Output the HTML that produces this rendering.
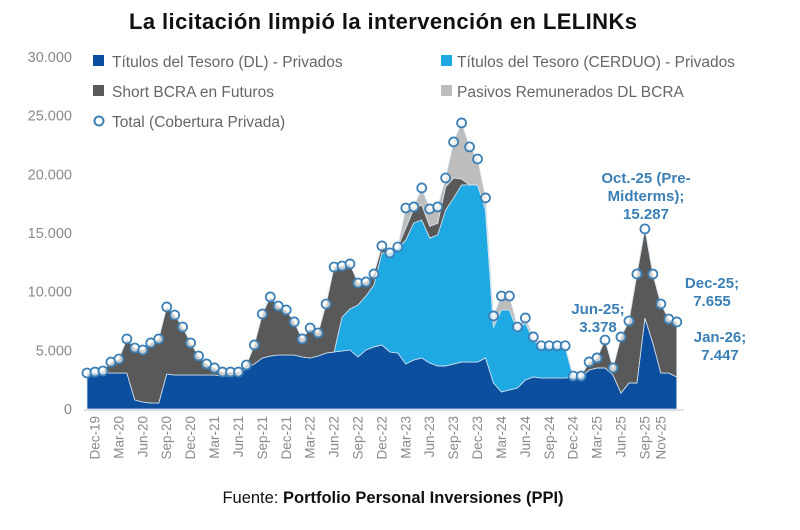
<!DOCTYPE html>
<html><head><meta charset="utf-8"><style>
body{margin:0;background:#fff;width:800px;height:525px;overflow:hidden;font-family:"Liberation Sans",sans-serif}
</style></head><body>
<svg id="chart" width="800" height="525" xmlns="http://www.w3.org/2000/svg" font-family="Liberation Sans, sans-serif">
<text x="383" y="29" text-anchor="middle" font-size="22" font-weight="bold" fill="#111" textLength="508">La licitación limpió la intervención en LELINKs</text>
<g id="yaxis"></g>
<g id="areas"></g>
<g id="points"></g>
<g id="xaxis"></g>
<g font-size="15.5" fill="#666">
 <g><rect x="93" y="55" width="11" height="11" fill="#0b4f9e"/><text x="112" y="67">Títulos del Tesoro (DL) - Privados</text></g>
 <g><rect x="441" y="55" width="11" height="11" fill="#1fa9e3"/><text x="457" y="67">Títulos del Tesoro (CERDUO) - Privados</text></g>
 <g><rect x="93" y="85" width="11" height="11" fill="#595959"/><text x="112" y="97">Short BCRA en Futuros</text></g>
 <g><rect x="441" y="85" width="11" height="11" fill="#bdbdbd"/><text x="457" y="97">Pasivos Remunerados DL BCRA</text></g>
 <g><circle cx="99" cy="121" r="4.5" fill="#fff" stroke="#3d80b5" stroke-width="2"/><text x="112" y="127">Total (Cobertura Privada)</text></g>
</g>
<g font-size="15" font-weight="bold" fill="#3a7fb5" text-anchor="middle">
 <text x="646" y="183">Oct.-25 (Pre-</text>
 <text x="646" y="201">Midterms);</text>
 <text x="646" y="219">15.287</text>
 <text x="598" y="314">Jun-25;</text>
 <text x="598" y="332">3.378</text>
 <text x="712" y="288">Dec-25;</text>
 <text x="712" y="306">7.655</text>
 <text x="720" y="342">Jan-26;</text>
 <text x="720" y="360">7.447</text>
</g>
<text x="393" y="503" text-anchor="middle" font-size="16.5" fill="#111">Fuente: <tspan font-weight="bold">Portfolio Personal Inversiones (PPI)</tspan></text>
</svg>
<script>
const dl=[3070,3070,3070,3070,3070,3070,770,600,510,510,2980,2900,2900,2900,2900,2900,2900,2810,2810,2900,3500,3840,4350,4520,4600,4600,4600,4430,4350,4520,4770,4860,4940,5030,4430,5030,5290,5460,4860,4770,3840,4180,4350,3920,3670,3670,3840,4000,4000,4000,4350,2220,1450,1620,1790,2470,2730,2640,2640,2640,2640,2730,2730,3320,3500,3500,2900,1360,2220,2220,7760,5630,3070,3070,2730];
const cer=[0,0,0,0,0,0,0,0,0,0,0,0,0,0,0,0,0,0,0,0,0,0,0,0,0,0,0,0,0,0,0,0,2900,3500,4440,4600,5280,7840,8440,8960,10560,11680,11760,10660,11160,13290,14150,15100,15100,15100,12610,4770,6990,6820,4940,4860,3150,2650,2650,2650,2650,0,0,0,0,0,0,0,0,0,0,0,0,0,0];
const shortF=[0,80,170,930,1190,2900,4430,4430,5120,5460,5720,5110,4090,2730,1620,940,600,340,340,250,250,1620,3750,5030,4180,3840,2820,1540,2550,1960,4180,7240,4350,3835,1870,1200,940,600,0,80,1030,1200,1300,1000,1000,1970,1700,500,0,0,0,0,0,0,0,0,0,0,0,0,0,80,80,690,850,2380,600,4780,5280,9290,7590,5870,5880,4600,4690];
const pas=[0,0,0,0,0,0,0,0,0,0,0,0,0,0,0,0,0,0,0,0,0,0,0,0,0,0,0,0,0,0,0,0,0,0,0,0,0,0,0,0,1700,160,1430,1470,1390,760,3070,4780,3240,2210,1030,940,1190,1190,260,430,260,100,100,100,100,0,0,0,0,0,0,0,0,0,0,0,0,0,0];
const yTicks=[0,5000,10000,15000,20000,25000,30000];
const yTickLabels=["0","5.000","10.000","15.000","20.000","25.000","30.000"];
const xTickIdx=[1,4,7,10,13,16,19,22,25,28,31,34,37,40,43,46,49,52,55,58,61,64,67,70,72];
const xTickLabels=["Dec-19","Mar-20","Jun-20","Sep-20","Dec-20","Mar-21","Jun-21","Sep-21","Dec-21","Mar-22","Jun-22","Sep-22","Dec-22","Mar-23","Jun-23","Sep-23","Dec-23","Mar-24","Jun-24","Sep-24","Dec-24","Mar-25","Jun-25","Sep-25","Nov-25"];
const NS="http://www.w3.org/2000/svg";
const x=i=>87+i*7.97;
const y=v=>409-v*0.011733;
const n=dl.length;
const layers=[dl,cer,shortF,pas];
const colors=["#0b4f9e","#1fa9e3","#595959","#bdbdbd"];
const names=["area-dl","area-cerduo","area-short-bcra","area-pasivos"];
let base=new Array(n).fill(0);
const areas=document.getElementById('areas');
layers.forEach((L,k)=>{
  const top=base.map((b,i)=>b+L[i]);
  let d="M"+x(0)+","+y(top[0]);
  for(let i=1;i<n;i++)d+="L"+x(i)+","+y(top[i]);
  for(let i=n-1;i>=0;i--)d+="L"+x(i)+","+y(base[i]);
  d+="Z";
  const p=document.createElementNS(NS,'path');
  p.setAttribute('d',d);p.setAttribute('fill',colors[k]);
  p.setAttribute('stroke','#d6e4f0');p.setAttribute('stroke-width','0.8');
  
  
  areas.appendChild(p);
  base=top;
});
const pts=document.getElementById('points');
base.forEach((v,i)=>{
  const c=document.createElementNS(NS,'circle');
  c.setAttribute('cx',x(i));c.setAttribute('cy',y(v));c.setAttribute('r','4.5');
  c.setAttribute('fill','#fff');c.setAttribute('fill-opacity','0.7');c.setAttribute('stroke','#3d80b5');c.setAttribute('stroke-width','1.8');
  
  
  pts.appendChild(c);
});
const ya=document.getElementById('yaxis');
yTicks.forEach((v,k)=>{
  const t=document.createElementNS(NS,'text');
  t.setAttribute('x','72');t.setAttribute('y',y(v)+5);t.setAttribute('text-anchor','end');
  t.setAttribute('font-size','14.5');t.setAttribute('fill','#8a8a8a');
  t.textContent=yTickLabels[k];
  
  
  ya.appendChild(t);
});
const xa=document.getElementById('xaxis');
const ln=document.createElementNS(NS,'line');
ln.setAttribute('x1','84');ln.setAttribute('x2','684');ln.setAttribute('y1','410');ln.setAttribute('y2','410');
ln.setAttribute('stroke','#cfd8e3');ln.setAttribute('stroke-width','1.5');


xa.appendChild(ln);
xTickIdx.forEach((i,k)=>{
  const t=document.createElementNS(NS,'text');
  const xx=x(i)+4.5;
  t.setAttribute('transform','translate('+xx+',416) rotate(-90)');
  t.setAttribute('text-anchor','end');t.setAttribute('font-size','13.5');t.setAttribute('fill','#8a8a8a');
  t.textContent=xTickLabels[k];
  
  
  xa.appendChild(t);
});
</script>
</body></html>
